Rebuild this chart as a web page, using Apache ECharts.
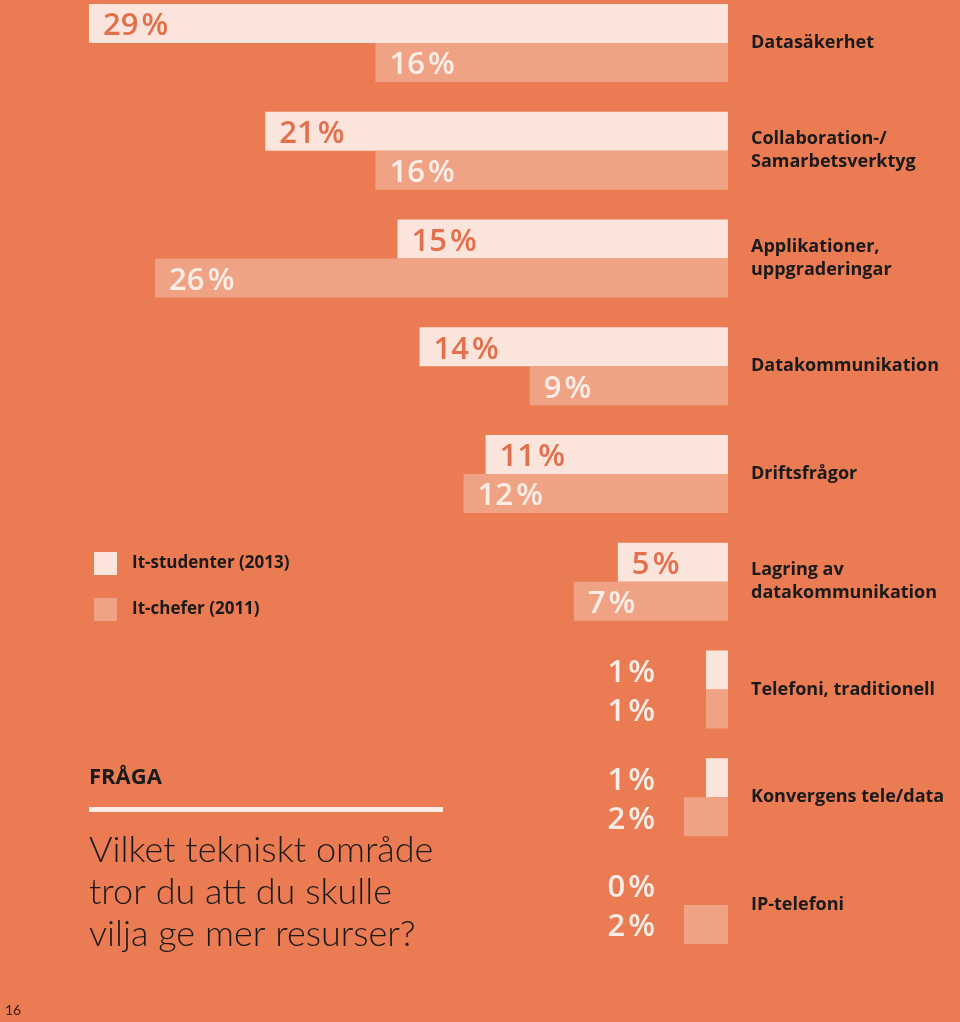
<!DOCTYPE html>
<html><head><meta charset="utf-8">
<script src="https://cdn.jsdelivr.net/npm/echarts@6/dist/echarts.min.js"></script>
<style>html,body{margin:0;padding:0;background:#EA7B53;}#c{width:960px;height:1022px;}</style>
</head><body><div id="c"></div>
<script>
const categories = ['Datasäkerhet','Collaboration-/\nSamarbetsverktyg','Applikationer,\nuppgraderingar','Datakommunikation','Driftsfrågor','Lagring av\ndatakommunikation','Telefoni, traditionell','Konvergens tele/data','IP-telefoni'];
const seriesNames = ['It-studenter (2013)','It-chefer (2011)'];
const students2013 = [29,21,15,14,11,5,1,1,0];
const chefs2011 = [16,16,26,9,12,7,1,2,2];
const questionLabel = 'FRÅGA';
const questionText = 'Vilket tekniskt område\ntror du att du skulle\nvilja ge mer resurser?';
const pageNumber = '16';

const BG = '#EA7B53', LIGHT = '#FAE4DC', DARK = '#F0A384';
const gridLeft = 89, gridRight = 232, xMax = 29;
const ppu = (960 - gridLeft - gridRight) / xMax;
const outsideRight = 655;

function makeData(arr){
  return arr.map(v => {
    const item = {value: v};
    if (v < 3) {
      const barLeft = 960 - gridRight - v*ppu;
      item.label = {position:'left', distance: barLeft - outsideRight, color:'#FCEDE6'};
    }
    return item;
  });
}
const valueFont = {fontFamily:'Open Sans', fontSize:31, fontWeight:600, offset:[0,3]};
const fmt = p => p.value + '\u200A%';

const chart = echarts.init(document.getElementById('c'));
chart.setOption({
  backgroundColor: BG,
  animation:false,
  legend:{
    orient:'vertical', left:89, top:547, itemWidth:23, itemHeight:23, itemGap:23,
    icon:'rect', data: seriesNames,
    textStyle:{color:'#1a1a1a', fontFamily:'Open Sans', fontWeight:'bold', fontSize:17, padding:[0,0,0,10]}
  },
  grid:{left:gridLeft, right:gridRight, top:43, height:862, containLabel:false},
  xAxis:{type:'value', inverse:true, min:0, max:xMax, show:false},
  yAxis:{type:'category', inverse:true, position:'right', boundaryGap:false, data:categories,
    axisLine:{show:false}, axisTick:{show:false}, splitLine:{show:false},
    axisLabel:{margin:23, align:'left', color:'#1a1a1a', fontFamily:'Open Sans', fontWeight:'bold', fontSize:18, lineHeight:23, padding:[5,0,0,0]}
  },
  series:[
    {name:seriesNames[0], type:'bar', barWidth:39, barGap:'0%', data:makeData(students2013),
     itemStyle:{color:LIGHT},
     label:Object.assign({show:true, position:'insideLeft', distance:14, color:'#E3704D', formatter:fmt}, valueFont)},
    {name:seriesNames[1], type:'bar', barWidth:39, barGap:'0%', data:makeData(chefs2011),
     itemStyle:{color:DARK},
     label:Object.assign({show:true, position:'insideLeft', distance:14, color:'#FCEDE6', formatter:fmt}, valueFont)}
  ],
  graphic:[
    {type:'text', left:89, top:767, style:{text:questionLabel, fill:'#1a1a1a', font:'bold 22px "Open Sans"'}},
    {type:'rect', shape:{x:89, y:807, width:354, height:5}, style:{fill:'#FCEDE6'}},
    {type:'text', left:89, top:829, style:{text:questionText, fill:'#1a1a1a', font:'300 36px Lato', lineHeight:42}},
    {type:'text', left:5, top:1003, style:{text:pageNumber, fill:'#3a1a10', font:'14px Lato'}}
  ]
});
</script></body></html>
